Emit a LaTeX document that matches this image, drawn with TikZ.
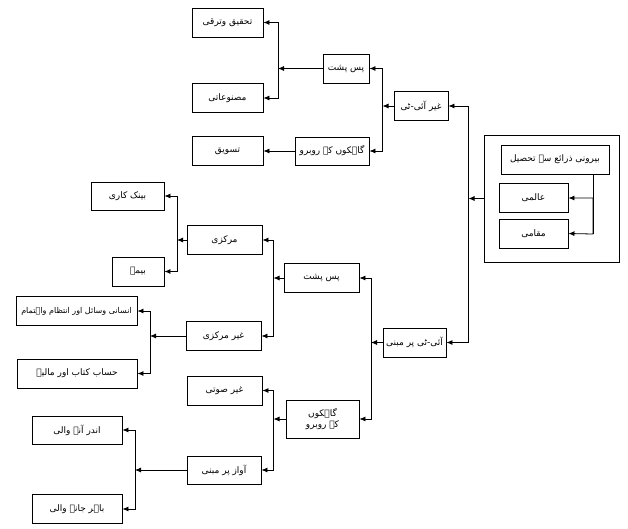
\documentclass[tikz,border=0pt]{standalone}
\usepackage{fontspec}
\newfontfamily\urdufont[Script=Arabic]{DejaVu Sans}
\TeXXeTstate=1
\usetikzlibrary{arrows.meta}
\newcommand{\ur}[1]{{\urdufont\beginR #1\endR}}
\tikzset{
  blok/.style={draw, line width=0.9pt, inner sep=1pt, minimum height=29pt, font=\fontsize{9}{11}\selectfont},
  lijn/.style={line width=0.8pt, -{Latex[length=6pt,width=5pt]}},
  tweelijn/.style={line width=0.8pt, {Latex[length=6pt,width=5pt]}-{Latex[length=6pt,width=5pt]}}
}
\begin{document}
\begin{tikzpicture}[x=1pt,y=-1pt]
			\useasboundingbox (0,0) rectangle (628,528);
			
			% outsourcing box on the right
			\node[draw, line width=0.9pt, minimum width=135pt, minimum height=127pt] (buiten) at (551.5,198.5) {};
			\node[blok, minimum width=108pt] (tahsil) at (555,159.5) {\ur{بیرونی ذرائع سے تحصیل}};
			\node[blok, minimum width=69pt] (aalmi) at (533.5,198) {\ur{عالمی}};
			\node[blok, minimum width=69pt] (maqami) at (533.5,233.5) {\ur{مقامی}};
			\coordinate (tb) at (593,234);
			\draw[line width=0.8pt] (tahsil.south -| tb) -- (tb);
			\draw[tweelijn] (aalmi.east) -| (tb) -- (maqami.east);
			
			% first level
			\node[blok, minimum width=54pt] (ghairit) at (421,106) {\ur{غیر آئی-ٹی}};
			\node[blok, minimum width=63pt] (itbased) at (414.5,342.5) {\ur{آئی-ٹی پر مبنی}};
			\coordinate (t0) at (468.5,342.5);
			\draw[lijn] (buiten.west) -- (buiten.west -| t0);
			\draw[tweelijn] (ghairit.east) -| (t0) -- (itbased.east);
			
			% non IT branch
			\node[blok, minimum width=46pt] (paspusht1) at (346,68.5) {\ur{پس پشت}};
			\node[blok, minimum width=74pt, minimum height=28pt] (gahak1) at (332,151) {\ur{گاہکوں کے روبرو}};
			\coordinate (t1) at (382.5,151);
			\draw[lijn] (ghairit.west) -- (ghairit.west -| t1);
			\draw[tweelijn] (paspusht1.east) -| (t1) -- (gahak1.east);
			
			\node[blok, minimum width=71pt] (tahqiq) at (227.5,22.5) {\ur{تحقیق وترقی}};
			\node[blok, minimum width=71pt] (masnuati) at (227.5,98) {\ur{مصنوعاتی}};
			\coordinate (t2) at (278,98);
			\draw[lijn] (paspusht1.west) -- (paspusht1.west -| t2);
			\draw[tweelijn] (tahqiq.east) -| (t2) -- (masnuati.east);
			
			\node[blok, minimum width=71pt] (tasweeq) at (227.5,151) {\ur{تسویق}};
			\draw[lijn] (gahak1.west) -- (tasweeq.east);
			
			% IT based branch
			\node[blok, minimum width=75pt] (paspusht2) at (321.5,278) {\ur{پس پشت}};
			\node[blok, minimum width=73pt, minimum height=38pt, align=center] (gahak2) at (322.5,419) {\ur{گاہکوں}\\\ur{کے روبرو}};
			\coordinate (t3) at (371,419);
			\draw[lijn] (itbased.west) -- (itbased.west -| t3);
			\draw[tweelijn] (paspusht2.east) -| (t3) -- (gahak2.east);
			
			\node[blok, minimum width=75pt] (markazi) at (224.5,240) {\ur{مرکزی}};
			\node[blok, minimum width=75pt] (ghairmarkazi) at (223.5,336) {\ur{غیر مرکزی}};
			\coordinate (t4) at (273.5,336);
			\draw[lijn] (paspusht2.west) -- (paspusht2.west -| t4);
			\draw[tweelijn] (markazi.east) -| (t4) -- (ghairmarkazi.east);
			
			\node[blok, minimum width=73pt, minimum height=28pt] (bank) at (127.5,196) {\ur{بینک کاری}};
			\node[blok, minimum width=52pt] (beema) at (138,271.5) {\ur{بیمہ}};
			\coordinate (t5) at (177,271.5);
			\draw[lijn] (markazi.west) -- (markazi.west -| t5);
			\draw[tweelijn] (bank.east) -| (t5) -- (beema.east);
			
			\node[blok, minimum width=121pt, font=\fontsize{8}{10}\selectfont] (insani) at (76.5,311) {\ur{انسانی وسائل اور انتظام واہتمام}};
			\node[blok, minimum width=120pt] (hisab) at (77,373.5) {\ur{حساب کتاب اور مالیہ}};
			\coordinate (t6) at (150,373.5);
			\draw[lijn] (ghairmarkazi.west) -- (ghairmarkazi.west -| t6);
			\draw[tweelijn] (insani.east) -| (t6) -- (hisab.east);
			
			\node[blok, minimum width=75pt] (ghairsauti) at (224.5,390.5) {\ur{غیر صوتی}};
			\node[blok, minimum width=74pt, minimum height=28pt] (awaz) at (224,470) {\ur{آواز پر مبنی}};
			\coordinate (t7) at (273.5,470);
			\draw[lijn] (gahak2.west) -- (gahak2.west -| t7);
			\draw[tweelijn] (ghairsauti.east) -| (t7) -- (awaz.east);
			
			\node[blok, minimum width=90pt, minimum height=28pt] (andar) at (77,430) {\ur{اندر آنے والی}};
			\node[blok, minimum width=90pt] (bahar) at (77,509) {\ur{باہر جانے والی}};
			\coordinate (t8) at (135,509);
			\draw[lijn] (awaz.west) -- (awaz.west -| t8);
			\draw[tweelijn] (andar.east) -| (t8) -- (bahar.east);
			
		\end{tikzpicture}
\end{document}
